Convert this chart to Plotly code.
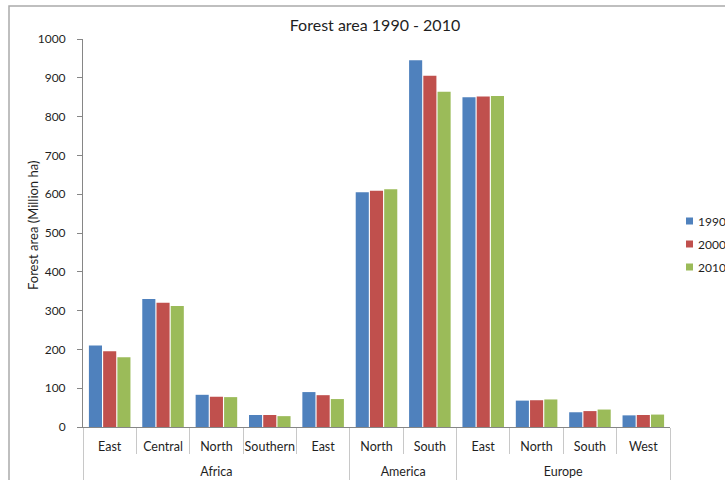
import plotly.graph_objects as go

# Forest area by region, million hectares
regions = ["Africa", "Africa", "Africa", "Africa", "Africa",
           "America", "America",
           "Europe", "Europe", "Europe", "Europe"]
# the zero-width space keeps the second Africa "East" a separate category
subregions = ["East", "Central", "North", "Southern", "East\u200b",
              "North", "South",
              "East", "North", "South", "West"]
years = ["1990", "2000", "2010"]
area_1990 = [210, 330, 83, 31, 90, 605, 945, 850, 68, 38, 30]
area_2000 = [195, 320, 78, 31, 82, 609, 905, 852, 69, 41, 31]
area_2010 = [180, 312, 77, 28, 72, 613, 864, 853, 71, 45, 32]
colors = ["#4F81BD", "#C0504D", "#9BBB59"]

FONT = "Lato, 'Open Sans', sans-serif"
TEXT = "#1f1f1f"

# group labels sit one text line lower than plotly's default position
group_labels = ["<br>" + r for r in regions]

fig = go.Figure()
for name, vals, col in zip(years, [area_1990, area_2000, area_2010], colors):
    fig.add_trace(go.Bar(
        x=[group_labels, subregions], y=vals, name=name,
        marker=dict(color=col, line=dict(width=0)),
        showlegend=False,
    ))

# plot area spans x 83..670 px and y 39..427 px
L, R, T, B = 83, 55, 39, 53
W, H = 725, 480
pw, ph = W - L - R, H - T - B

def px(x):
    return (x - L) / pw

def py(y):
    return (H - B - y) / ph

# legend: a small colored square plus the year label for each series
annotations = []
shapes = [dict(type="rect", xref="paper", yref="paper",
               x0=px(9), x1=px(740), y0=py(495), y1=py(6),
               line=dict(color="#aaaaaa", width=1.5), layer="below")]
for i, (name, col) in enumerate(zip(years, colors)):
    yc = 221 + 23 * i
    shapes.append(dict(type="rect", xref="paper", yref="paper",
                       x0=px(686), x1=px(693), y0=py(yc + 3.5), y1=py(yc - 3.5),
                       fillcolor=col, line=dict(width=0)))
    annotations.append(dict(
        xref="paper", yref="paper", x=px(696), y=py(yc),
        xanchor="left", yanchor="middle", showarrow=False, text=name,
        font=dict(family=FONT, size=12, color=TEXT),
    ))
annotations.append(dict(
    xref="paper", yref="paper", x=px(33), y=py(226),
    xanchor="center", yanchor="middle", showarrow=False, textangle=-90,
    text="Forest area (Million ha)",
    font=dict(family=FONT, size=13, color=TEXT),
))

fig.update_layout(
    width=W, height=H,
    margin=dict(l=L, r=R, t=T, b=B, autoexpand=False),
    paper_bgcolor="white", plot_bgcolor="white",
    font=dict(family=FONT, size=12, color=TEXT),
    title=dict(text="Forest area 1990 - 2010", x=375 / W, xref="container",
               y=1 - 25 / H, yref="container", xanchor="center", yanchor="middle",
               font=dict(family=FONT, size=16, color=TEXT)),
    barmode="group", bargap=0.2, bargroupgap=0.08,
    annotations=annotations,
    shapes=shapes,
)
fig.update_xaxes(
    type="multicategory", showline=True, linecolor="#868686", linewidth=1,
    ticks="outside", tickson="boundaries", ticklen=26, tickcolor="#c8c8c8",
    tickangle=0, ticklabelstandoff=8,
    dividercolor="#c8c8c8", dividerwidth=1,
    showgrid=False, zeroline=False, automargin=False,
    tickfont=dict(family=FONT, size=12.5, color=TEXT),
)
fig.update_yaxes(
    range=[0, 1000], dtick=100, showline=True, linecolor="#868686", linewidth=1,
    ticks="outside", ticklen=5, tickcolor="#868686", ticklabelstandoff=9,
    showgrid=False, zeroline=False, automargin=False,
    tickfont=dict(family=FONT, size=12, color=TEXT),
)

fig.write_html("out.html")
